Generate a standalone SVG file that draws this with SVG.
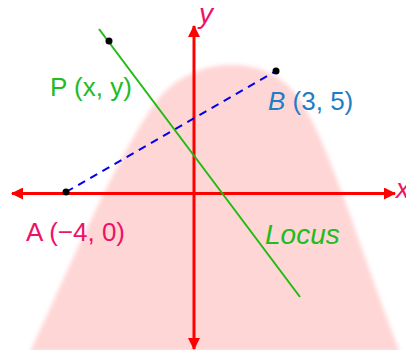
<svg xmlns="http://www.w3.org/2000/svg" width="406" height="350" viewBox="0 0 406 350">
<style>
text{font-family:"Liberation Sans",Arial,sans-serif}
.axis{stroke:#ff0000;stroke-width:3;fill:none}
.lbl{font-size:26px}
.dot{fill:#000}
</style>
<defs>
<filter id="soft" x="-10%" y="-10%" width="120%" height="120%"><feGaussianBlur stdDeviation="2"/></filter>
<marker id="arr" viewBox="0 0 12 12" refX="11" refY="6" markerWidth="12" markerHeight="12" markerUnits="userSpaceOnUse" orient="auto"><path d="M0,0 L12,6 L0,12 Z" fill="#ff0000"/></marker>
</defs>
<rect width="406" height="350" fill="#fff"/>
<path id="bell" d="M30 352 C 72 262, 115 160, 155 103 C 190 55, 268 50, 300 100 C 330 145, 362 255, 400 352 Z" fill="#ffd6d6" filter="url(#soft)"/>
<g id="connectors">
<line class="axis" x1="194" y1="193.5" x2="12" y2="193.5" marker-end="url(#arr)"/>
<line class="axis" x1="194" y1="193.5" x2="395" y2="193.5" marker-end="url(#arr)"/>
<line class="axis" x1="194" y1="193.5" x2="194" y2="26" marker-end="url(#arr)"/>
<line class="axis" x1="194" y1="193.5" x2="194" y2="349" marker-end="url(#arr)"/>
<line x1="66" y1="192" x2="276" y2="71" stroke="#0000ee" stroke-width="2" stroke-dasharray="8,6"/>
<line x1="99" y1="29" x2="300" y2="297" stroke="#22bb11" stroke-width="2"/>
</g>
<g id="A"><circle class="dot" cx="66" cy="192" r="3.5"/><text class="lbl" x="26" y="241" fill="#ee1166">A (−4, 0)</text></g>
<g id="B"><circle class="dot" cx="276" cy="71" r="3.5"/><text class="lbl" x="268" y="110" fill="#1f7dc6"><tspan font-style="italic">B</tspan> (3, 5)</text></g>
<g id="P"><circle class="dot" cx="109" cy="41" r="3.5"/><text class="lbl" x="50" y="96" fill="#22bb22">P (x, y)</text></g>
<g id="locus"><text x="265" y="244" font-size="28" font-style="italic" fill="#22bb22">Locus</text></g>
<g id="ylabel"><text x="199" y="23" font-size="28" font-style="italic" fill="#ee1166">y</text></g>
<g id="xlabel"><text x="396" y="198" font-size="27" font-style="italic" fill="#ee1166">x</text></g>
</svg>
